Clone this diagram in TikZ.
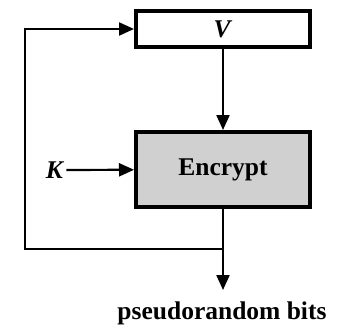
\documentclass[tikz,border=0pt]{standalone}
\usepackage{fontspec}
\setmainfont{Liberation Serif}
\usetikzlibrary{arrows.meta}
\definecolor{encgray}{RGB}{207,208,207}

\begin{document}
\begin{tikzpicture}[x=1pt,y=-1pt,font=\fontsize{25.5}{30}\selectfont\bfseries]
\tikzset{box/.style={draw,line width=4pt,minimum width=174pt,inner sep=0pt},
  flow/.style={line width=2.2pt,-{Triangle[length=15pt,width=13pt]}}}
\useasboundingbox (0,0) rectangle (337,325);
\node [box,minimum height=36pt] (v) at (223,29) {\textit{V}};
\node [box,fill=encgray,minimum height=75pt] (enc) at (223,169.5) {Encrypt};
\node [inner sep=2pt] (k) at (55,170) {\textit{K}};
\coordinate (split) at (223,249);
\coordinate (out) at (223,290);
\coordinate (loop) at (25,249);
\node (bits) at (222,313) {pseudorandom bits};
\draw [flow] (v) -- (enc);
\draw [flow] (k) -- (enc);
\draw [flow] (enc) -- (out);
\draw [flow] (split) -- (loop) |- (v);
\end{tikzpicture}
\end{document}
